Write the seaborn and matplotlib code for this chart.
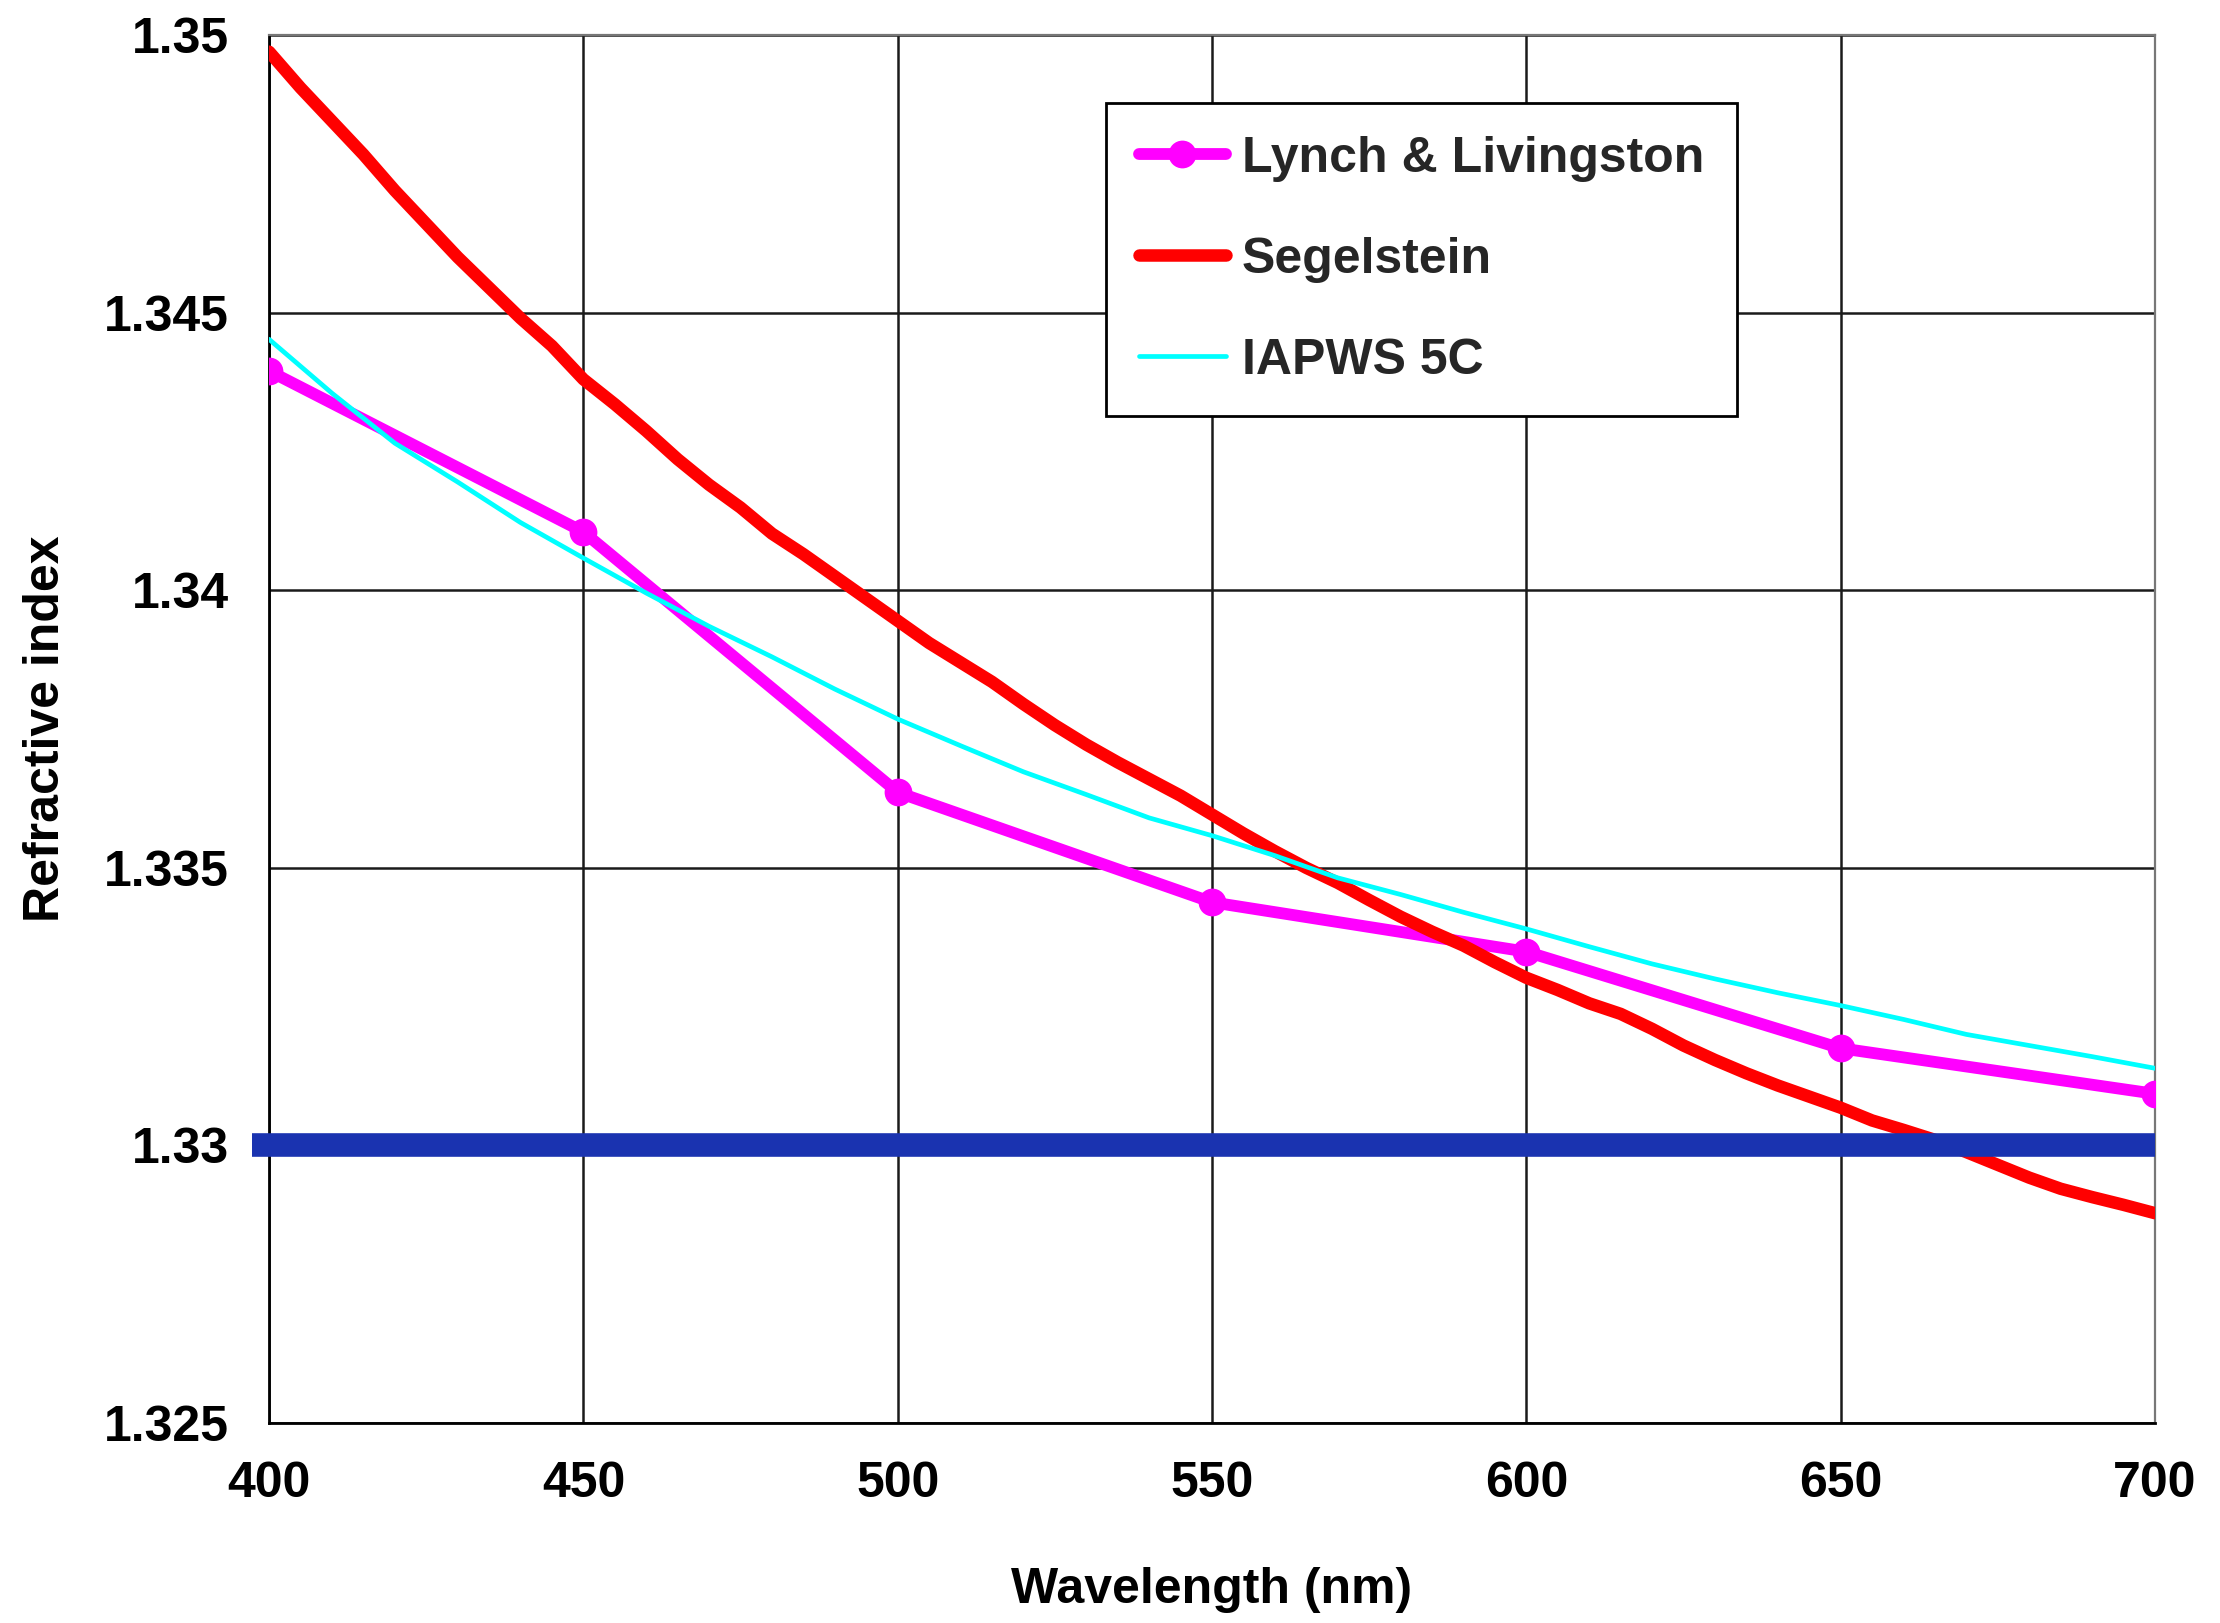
import matplotlib
matplotlib.use("Agg")
import matplotlib.pyplot as plt
import seaborn as sns
import pandas as pd
from matplotlib.ticker import FuncFormatter

# ---------------- data ----------------
lynch_wl = [400, 450, 500, 550, 600, 650, 700]
lynch_n = [1.34395, 1.34105, 1.33636, 1.33438, 1.33349, 1.33175, 1.33093]

seg_wl = [400, 405, 410, 415, 420, 425, 430, 435, 440, 445, 450, 455, 460, 465,
          470, 475, 480, 485, 490, 495, 500, 505, 510, 515, 520, 525, 530, 535,
          540, 545, 550, 555, 560, 565, 570, 575, 580, 585, 590, 595, 600, 605,
          610, 615, 620, 625, 630, 635, 640, 645, 650, 655, 660, 665, 670, 675,
          680, 685, 690, 695, 700]
seg_n = [1.34970, 1.34905, 1.34845, 1.34785, 1.34720, 1.34660, 1.34600, 1.34545,
         1.34490, 1.34440, 1.34380, 1.34335, 1.34287, 1.34236, 1.34190, 1.34149,
         1.34102, 1.34065, 1.34025, 1.33985, 1.33945, 1.33905, 1.33870, 1.33835,
         1.33795, 1.33757, 1.33722, 1.33690, 1.33660, 1.33630, 1.33596, 1.33562,
         1.33530, 1.33500, 1.33473, 1.33442, 1.33412, 1.33385, 1.33360, 1.33330,
         1.33302, 1.33280, 1.33256, 1.33237, 1.33210, 1.33180, 1.33154, 1.33130,
         1.33108, 1.33088, 1.33068, 1.33045, 1.33028, 1.33010, 1.32988, 1.32965,
         1.32942, 1.32922, 1.32907, 1.32893, 1.32878]

iapws_wl = [400, 410, 420, 430, 440, 450, 460, 470, 480, 490, 500, 510, 520, 530,
            540, 550, 560, 570, 580, 590, 600, 610, 620, 630, 640, 650, 660, 670,
            680, 690, 700]
iapws_n = [1.34452, 1.34355, 1.34265, 1.34195, 1.34122, 1.34058, 1.33995, 1.33935,
           1.33880, 1.33822, 1.33768, 1.33720, 1.33673, 1.33632, 1.33590, 1.33558,
           1.33522, 1.33482, 1.33452, 1.33420, 1.33390, 1.33358, 1.33327, 1.33300,
           1.33275, 1.33252, 1.33227, 1.33200, 1.33180, 1.33160, 1.33139]

reference_n = 1.33

x_ticks = [400, 450, 500, 550, 600, 650, 700]
y_ticks = [1.325, 1.33, 1.335, 1.34, 1.345, 1.35]

series_names = ["Lynch & Livingston", "Segelstein", "IAPWS 5C"]
x_label = "Wavelength (nm)"
y_label = "Refractive index"

# ---------------- style ----------------
sns.set_style("white")
plt.rcParams["font.family"] = ["Liberation Sans", "DejaVu Sans"]
plt.rcParams["font.weight"] = "bold"

FS = 36

fig = plt.figure(figsize=(22.2, 16.23), dpi=100)
ax = fig.add_axes([0.1212, 0.1232, 0.8495, 0.8552])

df_l = pd.DataFrame({"wl": lynch_wl, "n": lynch_n})
df_s = pd.DataFrame({"wl": seg_wl, "n": seg_n})
df_i = pd.DataFrame({"wl": iapws_wl, "n": iapws_n})

sns.lineplot(data=df_l, x="wl", y="n", ax=ax, color="#FF00FF", linewidth=8.5,
             marker="o", markersize=20, markeredgewidth=0,
             markeredgecolor="#FF00FF", label=series_names[0], zorder=3,
             solid_capstyle="round")
sns.lineplot(data=df_s, x="wl", y="n", ax=ax, color="#FF0000", linewidth=9,
             label=series_names[1], zorder=4, solid_capstyle="round")
sns.lineplot(data=df_i, x="wl", y="n", ax=ax, color="#00FFFF", linewidth=3.4,
             label=series_names[2], zorder=5)

ax.axhline(reference_n, xmin=-0.009, xmax=1.0, color="#1A33B0", linewidth=17,
           solid_capstyle="butt", clip_on=False, zorder=6)

ax.set_xlim(x_ticks[0], x_ticks[-1])
ax.set_ylim(y_ticks[0], y_ticks[-1])
ax.set_xticks(x_ticks)
ax.set_yticks(y_ticks)
ax.yaxis.set_major_formatter(FuncFormatter(lambda v, p: f"{v:g}"))

ax.grid(True, color="#1a1a1a", linewidth=1.8, zorder=0)
ax.set_axisbelow(True)

for side in ["left", "bottom"]:
    ax.spines[side].set_color("black")
    ax.spines[side].set_linewidth(2)
for side in ["top", "right"]:
    ax.spines[side].set_color("#777777")
    ax.spines[side].set_linewidth(1.6)

ax.tick_params(axis="both", which="major", direction="out", length=12, width=1.6,
               color="black", labelsize=FS, labelcolor="black")
ax.tick_params(axis="y", pad=17)
ax.tick_params(axis="x", pad=15)
for lab in ax.get_xticklabels() + ax.get_yticklabels():
    lab.set_fontweight("bold")

ax.set_xlabel(x_label, fontsize=FS, fontweight="bold", color="black")
ax.set_ylabel(y_label, fontsize=FS, fontweight="bold", color="black")
ax.xaxis.set_label_coords(0.5, -0.104)
ax.yaxis.set_label_coords(-0.106, 0.5)

leg = ax.legend(loc="upper left", bbox_to_anchor=(0.4438, 0.951),
                borderaxespad=0, frameon=True, fancybox=False,
                framealpha=1, edgecolor="black", handlelength=1.75,
                handletextpad=0.32, labelspacing=1.1, borderpad=0.65,
                prop={"weight": "bold", "size": FS})
leg.get_frame().set_linewidth(2)
leg.set_zorder(10)

fig.savefig("out.png", dpi=100)
